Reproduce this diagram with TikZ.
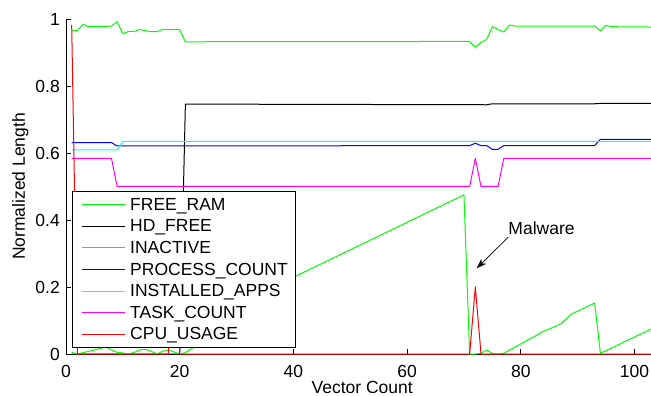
\documentclass[tikz,border=0pt]{standalone}
\usepackage{fontspec}
\setmainfont{Liberation Sans}
\usepackage{tikz}
\usetikzlibrary{arrows.meta}
\definecolor{matgreen}{RGB}{0,255,0}
\definecolor{matblue}{RGB}{0,0,255}
\definecolor{matcyan}{RGB}{0,255,255}
\definecolor{matmagenta}{RGB}{255,0,255}
\definecolor{matred}{RGB}{255,0,0}
\tikzstyle{series} = [line width=1bp, line join=round]
\tikzstyle{sample} = [line width=1.3bp]
\tikzstyle{axisline} = [line width=0.7bp, black]
\tikzstyle{ticklabel} = [inner sep=0pt]
\tikzstyle{legendbox} = [draw=black, fill=white, line width=0.9bp]
\tikzstyle{legendtext} = [inner sep=0pt, anchor=base west]
\tikzstyle{malarrow} = [line width=0.7bp, black, -{Stealth[length=10bp,width=7bp,inset=3bp]}]

\begin{document}
\begin{tikzpicture}[x=5.685bp, y=335bp, font=\fontsize{17.5bp}{21bp}\selectfont]
  \useasboundingbox (-66bp,-42bp) rectangle (585bp,354bp);

  % Axes
  \draw[axisline] (0,1) -- (0,0) -- (103,0);
  \draw[axisline] (0,0.2) -- ++(4.5bp,0) (0,0.4) -- ++(4.5bp,0) (0,0.6) -- ++(4.5bp,0)
                  (0,0.8) -- ++(4.5bp,0) (0,1) -- ++(4.5bp,0);
  \draw[axisline] (20,0) -- ++(0,4.5bp) (40,0) -- ++(0,4.5bp) (60,0) -- ++(0,4.5bp)
                  (80,0) -- ++(0,4.5bp) (100,0) -- ++(0,4.5bp);

  % Tick labels
  \node[ticklabel, anchor=east] (y0)  at ([xshift=-6bp]0,0)   {0};
  \node[ticklabel, anchor=east] (y2)  at ([xshift=-6bp]0,0.2) {0.2};
  \node[ticklabel, anchor=east] (y4)  at ([xshift=-6bp]0,0.4) {0.4};
  \node[ticklabel, anchor=east] (y6)  at ([xshift=-6bp]0,0.6) {0.6};
  \node[ticklabel, anchor=east] (y8)  at ([xshift=-6bp]0,0.8) {0.8};
  \node[ticklabel, anchor=east] (y10) at ([xshift=-6bp]0,1)   {1};
  \node[ticklabel, anchor=north] (x0)   at ([yshift=-11bp]0,0)   {0};
  \node[ticklabel, anchor=north] (x20)  at ([yshift=-11bp]20,0)  {20};
  \node[ticklabel, anchor=north] (x40)  at ([yshift=-11bp]40,0)  {40};
  \node[ticklabel, anchor=north] (x60)  at ([yshift=-11bp]60,0)  {60};
  \node[ticklabel, anchor=north] (x80)  at ([yshift=-11bp]80,0)  {80};
  \node[ticklabel, anchor=north] (x100) at ([yshift=-11bp]100,0) {100};

  % Axis labels
  \node[ticklabel, anchor=base] (xlabel) at ([yshift=-39.5bp]52.1,0) {Vector Count};
  \node[ticklabel, anchor=base, rotate=90] (ylabel) at ([xshift=-41bp]0,0.5) {Normalized Length};

  % Series
  \draw[series, matgreen] plot coordinates {(1,0.965) (2,0.965) (3,0.984) (4,0.977) (5,0.977) (6,0.978)
    (7,0.978) (8,0.979) (9,0.992) (10,0.956) (11,0.963) (12,0.963) (13,0.969) (14,0.965) (15,0.962)
    (16,0.962) (17,0.969) (18,0.968) (19,0.968) (20,0.968) (21,0.932) (71,0.933) (72,0.916) (73,0.930)
    (74,0.939) (75,0.977) (76,0.969) (77,0.961) (78,0.982) (79,0.979) (93,0.979) (94,0.964) (95,0.981)
    (96,0.977) (103,0.976)};
  \draw[series, black] plot coordinates {(1,0) (20,0) (21,0.746) (74,0.744) (75,0.747) (93,0.747)
    (94,0.748) (103,0.748)};
  \draw[series, matgreen] plot coordinates {(1,0.005) (2,0) (3,0.004) (4,0.008) (5,0.012) (6,0.016)
    (7,0.022) (8,0.012) (9,0.005) (10,0.003) (11,0) (12,0.005) (13,0.012) (14,0.014) (15,0.008)
    (16,0) (17,0.008) (18,0.012) (19,0.006) (20,0) (21,0.004) (22,0.015) (40,0.229) (70,0.475)
    (71,0) (72,0) (73,0.002) (74,0.012) (75,0.001) (76,0) (77,0.002) (80,0.03) (83,0.058) (84,0.068)
    (86,0.082) (87,0.09) (88,0.105) (89,0.12) (93,0.152) (94,0.002) (103,0.075)};
  \draw[series, matblue] plot coordinates {(1,0.631) (8,0.631) (9,0.621) (71,0.622) (72,0.629) (73,0.622)
    (74,0.622) (75,0.611) (76,0.611) (77,0.622) (93,0.622) (94,0.641) (103,0.641)};
  \draw[series, matcyan] plot coordinates {(1,0.609) (9,0.609) (10,0.635) (103,0.635)};
  \draw[series, matmagenta] plot coordinates {(1,0.584) (8,0.584) (9,0.5) (71,0.5) (72,0.584) (73,0.5)
    (76,0.5) (77,0.584) (103,0.584)};
  \draw[series, matred] plot coordinates {(1,0.982) (2,0) (18,0) (19,0.45) (20,0) (71,0) (72,0.2)
    (73,0) (103,0)};

  % Legend
  \draw[legendbox] (1.055,0.0209) rectangle (40.28,0.4866);
  \draw[sample, matgreen]   (2.81,0.44627) -- (10.38,0.44627);
  \draw[sample, black]      (2.81,0.38060) -- (10.38,0.38060);
  \draw[sample, matgreen]   (2.81,0.31791) -- (10.38,0.31791);
  \draw[sample, matblue]    (2.81,0.25224) -- (10.38,0.25224);
  \draw[sample, matcyan]    (2.81,0.18657) -- (10.38,0.18657);
  \draw[sample, matmagenta] (2.81,0.12388) -- (10.38,0.12388);
  \draw[sample, matred]     (2.81,0.05821) -- (10.38,0.05821);
  \node[legendtext] (lgFreeRam)  at ([yshift=-6bp]11.26,0.4469) {FREE\_RAM};
  \node[legendtext] (lgHdFree)   at ([yshift=-6bp]11.26,0.3824) {HD\_FREE};
  \node[legendtext] (lgInactive) at ([yshift=-6bp]11.26,0.3179) {INACTIVE};
  \node[legendtext] (lgProcess)  at ([yshift=-6bp]11.26,0.2535) {PROCESS\_COUNT};
  \node[legendtext] (lgApps)     at ([yshift=-6bp]11.26,0.1890) {INSTALLED\_APPS};
  \node[legendtext] (lgTask)     at ([yshift=-6bp]11.26,0.1245) {TASK\_COUNT};
  \node[legendtext] (lgCpu)      at ([yshift=-6bp]11.26,0.0600) {CPU\_USAGE};

  % Malware annotation
  \node[inner xsep=0pt, inner ysep=2.7bp, anchor=base west] (malware) at (77.8,0.3582) {Malware};
  \coordinate (spike) at (72.24,0.2558);
  \draw[malarrow] (malware.south west) -- (spike);
\end{tikzpicture}
\end{document}
